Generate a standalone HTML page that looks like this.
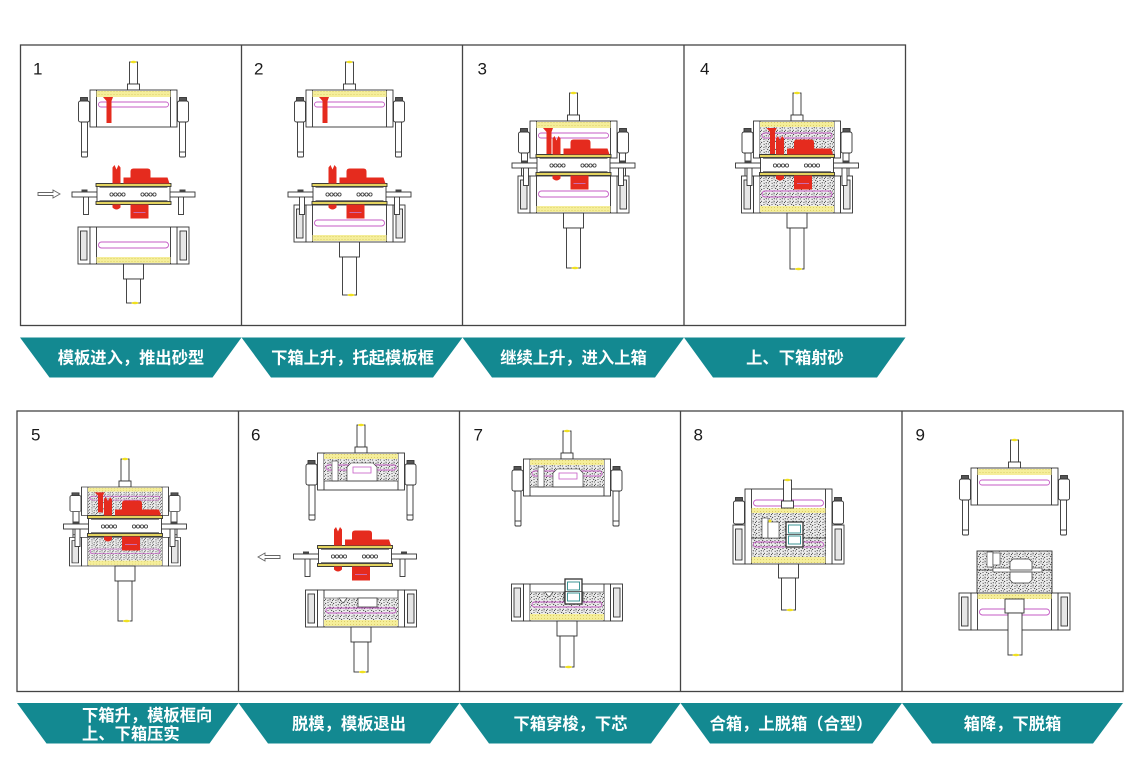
<!DOCTYPE html>
<html><head><meta charset="utf-8">
<style>
html,body{margin:0;padding:0;background:#fff;}
svg{display:block;}
.n{font-family:"Liberation Sans",Arial,sans-serif;font-size:17px;fill:#1a1a1a;}
.b{font-family:"Liberation Sans","Noto Sans CJK SC","WenQuanYi Zen Hei",sans-serif;font-size:16.3px;font-weight:bold;fill:#fff;}
</style></head><body>
<svg width="1140" height="766" viewBox="0 0 1140 766" xmlns="http://www.w3.org/2000/svg">
<defs>
<pattern id="sand" width="8" height="8" patternUnits="userSpaceOnUse">
<rect width="8" height="8" fill="#ececec"/>
<path d="M0.5,1 l1.2,0.4 M4,0.8 l0.8,1 M6.5,2.5 l1,-0.6 M2,4 l1.2,0.8 M5,5 l-0.8,1 M0.8,6.5 l1,0.5 M6.8,6.8 l0.6,1" stroke="#222" stroke-width="0.75"/>
<circle cx="3.5" cy="2.6" r="0.55" fill="#333"/>
<circle cx="7" cy="4.5" r="0.55" fill="#333"/>
<circle cx="3.4" cy="7" r="0.55" fill="#333"/>
<circle cx="1" cy="3" r="0.45" fill="#444"/>
</pattern>
<pattern id="ydot" width="3" height="3" patternUnits="userSpaceOnUse">
<rect width="3" height="3" fill="#f5ee9a"/><circle cx="1.5" cy="1.5" r="0.5" fill="#d4c35a"/>
</pattern>

<g id="toprod" stroke="#333" stroke-width="0.9" fill="#fff">
<rect x="-4" y="-28" width="8" height="22"/>
<rect x="-6" y="-6" width="12" height="6"/>
<ellipse cx="0" cy="-28" rx="3" ry="1.3" fill="#f0e020" stroke="none"/>
</g>

<g id="copeFrame" stroke="#333" stroke-width="0.9" fill="#fff">
<rect x="-52" y="31" width="6" height="36" rx="1"/>
<rect x="46" y="31" width="6" height="36" rx="1"/>
<line x1="-52" y1="62" x2="-46" y2="62"/>
<line x1="46" y1="62" x2="52" y2="62"/>
<rect x="-55" y="11" width="11" height="21" rx="2"/>
<rect x="44" y="11" width="11" height="21" rx="2"/>
<rect x="-53" y="7.5" width="7" height="3.5" fill="#555"/>
<rect x="46" y="7.5" width="7" height="3.5" fill="#555"/>
<rect x="-43.5" y="0" width="87" height="37"/>
<line x1="-37" y1="0" x2="-37" y2="37"/>
<line x1="37" y1="0" x2="37" y2="37"/>
</g>

<g id="copeEmptyIn">
<rect x="-37" y="1" width="74" height="6" fill="url(#ydot)"/>
<rect x="-35" y="12" width="70" height="5" rx="2.5" fill="none" stroke="#c55bc5" stroke-width="0.9"/>
</g>
<g id="copeSandIn">
<rect x="-37" y="6" width="74" height="30.5" fill="url(#sand)"/>
<rect x="-37" y="1" width="74" height="5" fill="url(#ydot)"/>
<rect x="-35" y="12" width="70" height="5" rx="2.5" fill="none" stroke="#c55bc5" stroke-width="0.9"/>
</g>
<g id="copeStrip">
<rect x="-37" y="1" width="74" height="5" fill="url(#ydot)"/>
<rect x="-37" y="6" width="74" height="22" fill="url(#sand)"/>
<rect x="-35" y="12" width="70" height="5" rx="2.5" fill="none" stroke="#c55bc5" stroke-width="0.9"/>
<rect x="-29" y="8" width="6" height="20" fill="#fff" stroke="#333" stroke-width="0.6"/>
<path d="M-14,28 V14 L-10,10 H12 L16,14 V28 Z" fill="#fff" stroke="#333" stroke-width="0.6"/>
<rect x="-8" y="14" width="18" height="6" fill="none" stroke="#c55bc5" stroke-width="0.8"/>
<line x1="-37" y1="28" x2="37" y2="28" stroke="#333" stroke-width="0.7"/>
</g>
<g id="copeSprue" fill="#e52b1e">
<path d="M-30.5,7 L-20.5,7 L-22,11 L-22,33 L-27,33 L-27,11 Z"/>
</g>

<g id="plate" stroke="#333" stroke-width="0.9">
<rect x="-50" y="2" width="5" height="18" fill="#fff"/>
<rect x="45" y="2" width="5" height="18" fill="#fff"/>
<rect x="-61.5" y="-2.5" width="123" height="5" fill="#fff"/>
<rect x="-36.5" y="-11" width="73" height="21" fill="#fff"/>
<rect x="-37.5" y="-11" width="75" height="3" fill="#e3d35f"/>
<rect x="-37.5" y="7" width="75" height="3" fill="#e3d35f"/>
<line x1="-34" y1="-7" x2="34" y2="-7" stroke="#888"/>
<line x1="-34" y1="6" x2="34" y2="6" stroke="#888"/>
<g fill="#fff" stroke-width="0.8">
<circle cx="-22" cy="0" r="1.6"/><circle cx="-18" cy="0" r="1.6"/><circle cx="-14" cy="0" r="1.6"/><circle cx="-10" cy="0" r="1.6"/>
<circle cx="9" cy="0" r="1.6"/><circle cx="13" cy="0" r="1.6"/><circle cx="17" cy="0" r="1.6"/><circle cx="21" cy="0" r="1.6"/>
</g>
<rect x="-52" y="-5" width="6" height="2.5" fill="#444" stroke="none"/>
<rect x="46" y="-5" width="6" height="2.5" fill="#444" stroke="none"/>
</g>

<g id="patRed" fill="#e52b1e">
<path d="M-21,-11 V-27 L-19,-29.5 L-17,-25 L-15,-29.5 L-13,-27 V-11 Z"/>
<path d="M-10,-11 V-17 L-3,-17 L-3,-23 Q-3,-26 0,-26 L14,-26 Q17,-26 17,-23 L17,-17 L34,-17 L36,-11 Z"/>
<rect x="-3" y="10" width="18" height="14"/>
<path d="M-21,10 h8 v3 q-4,4 -8,0 z"/>
<line x1="0" y1="18" x2="12" y2="18" stroke="#c77bd0" stroke-width="0.8"/>
</g>

<g id="dragFrame" stroke="#333" stroke-width="0.9" fill="#fff">
<rect x="-55.5" y="0" width="12" height="37"/>
<rect x="-53" y="4" width="6.5" height="29" fill="#e6e6e6"/>
<rect x="43.5" y="0" width="12" height="37"/>
<rect x="46.5" y="4" width="6.5" height="29" fill="#e6e6e6"/>
<rect x="-43.5" y="0" width="87" height="37"/>
<line x1="-37" y1="0" x2="-37" y2="37"/>
<line x1="37" y1="0" x2="37" y2="37"/>
</g>
<g id="dragEmptyIn">
<rect x="-35" y="15" width="70" height="6" rx="3" fill="none" stroke="#c55bc5" stroke-width="0.9"/>
<rect x="-37" y="30" width="74" height="6" fill="url(#ydot)"/>
</g>
<g id="dragSandIn">
<rect x="-37" y="0.5" width="74" height="29.5" fill="url(#sand)"/>
<rect x="-35" y="15" width="70" height="6" rx="3" fill="none" stroke="#c55bc5" stroke-width="0.9"/>
<rect x="-37" y="30" width="74" height="6" fill="url(#ydot)"/>
</g>
<g id="dragStrip">
<rect x="-37" y="8" width="74" height="22" fill="url(#sand)"/>
<line x1="-37" y1="8" x2="37" y2="8" stroke="#333" stroke-width="0.6"/>
<path d="M-3,8 V17 H16 V8 Z" fill="#fff" stroke="#333" stroke-width="0.7"/>
<path d="M-22,8 L-18,13 L-14,8 Z" fill="#fff" stroke="#333" stroke-width="0.6"/>
<rect x="-35" y="18" width="70" height="5" rx="2.5" fill="none" stroke="#c55bc5" stroke-width="0.9"/>
<rect x="-37" y="30" width="74" height="6" fill="url(#ydot)"/>
</g>
<g id="collar"><rect x="-10" y="0" width="20" height="15" fill="#fff" stroke="#333" stroke-width="0.9"/></g>
<g id="core">
<rect x="0" y="0" width="17" height="25" fill="#fff" stroke="#333" stroke-width="1.3"/>
<rect x="2.5" y="3" width="12" height="8" fill="none" stroke="#2a8a8a" stroke-width="0.9"/>
<rect x="2.5" y="14" width="12" height="8" fill="none" stroke="#2a8a8a" stroke-width="0.9"/>
<line x1="0" y1="12.5" x2="17" y2="12.5" stroke="#333" stroke-width="0.8"/>
</g>
</defs>

<!-- panel frames -->
<g fill="none" stroke="#444" stroke-width="1.3">
<rect x="20.5" y="45" width="885" height="280.5"/>
<line x1="241.5" y1="45" x2="241.5" y2="325.5"/>
<line x1="462.5" y1="45" x2="462.5" y2="325.5"/>
<line x1="684" y1="45" x2="684" y2="325.5"/>
<rect x="17" y="411" width="1106" height="280.5"/>
<line x1="238.5" y1="411" x2="238.5" y2="691.5"/>
<line x1="459.5" y1="411" x2="459.5" y2="691.5"/>
<line x1="680.5" y1="411" x2="680.5" y2="691.5"/>
<line x1="902" y1="411" x2="902" y2="691.5"/>
</g>

<!-- numbers -->
<text class="n" x="33" y="74.5">1</text>
<text class="n" x="254" y="74.5">2</text>
<text class="n" x="477.5" y="74.5">3</text>
<text class="n" x="700" y="74.5">4</text>
<text class="n" x="31" y="440.7">5</text>
<text class="n" x="251" y="440.7">6</text>
<text class="n" x="473.5" y="440.7">7</text>
<text class="n" x="693.5" y="440.7">8</text>
<text class="n" x="915.5" y="440.7">9</text>

<!-- banners -->
<g fill="#138991">
<polygon points="20,337.5 241.5,337.5 212.5,377.5 49.5,377.5"/>
<polygon points="241.5,337.5 462.5,337.5 433,377.5 271,377.5"/>
<polygon points="462.5,337.5 684,337.5 655,377.5 492,377.5"/>
<polygon points="684,337.5 905.5,337.5 877,377.5 713,377.5"/>
<polygon points="17,703 238.5,703 209.5,743.5 46.5,743.5"/>
<polygon points="238.5,703 459.5,703 430,743.5 268,743.5"/>
<polygon points="459.5,703 680.5,703 651,743.5 489,743.5"/>
<polygon points="680.5,703 902,703 872.5,743.5 710,743.5"/>
<polygon points="902,703 1123,703 1093,743.5 932,743.5"/>
</g>
<text class="b" x="131" y="363.5" text-anchor="middle">模板进入，推出砂型</text>
<text class="b" x="352.5" y="363.5" text-anchor="middle">下箱上升，托起模板框</text>
<text class="b" x="573.5" y="363.5" text-anchor="middle">继续上升，进入上箱</text>
<text class="b" x="795" y="363.5" text-anchor="middle">上、下箱射砂</text>
<text class="b" x="82" y="721">下箱升，模板框向</text>
<text class="b" x="82" y="739.5">上、下箱压实</text>
<text class="b" x="349" y="729.5" text-anchor="middle">脱模，模板退出</text>
<text class="b" x="570.5" y="729.5" text-anchor="middle">下箱穿梭，下芯</text>
<text class="b" x="791" y="729.5" text-anchor="middle">合箱，上脱箱（合型）</text>
<text class="b" x="1012.5" y="729.5" text-anchor="middle">箱降，下脱箱</text>

<!-- Panel 1 -->
<use href="#toprod" x="133.5" y="90"/>
<use href="#copeFrame" x="133.5" y="90"/>
<use href="#copeEmptyIn" x="133.5" y="90"/>
<use href="#copeSprue" x="133.5" y="90"/>
<use href="#plate" x="133.5" y="194.5"/>
<use href="#patRed" x="133.5" y="194.5"/>
<path d="M38,192.5 H53 V190 L60,194 L53,198 V195.5 H38 Z" fill="#fff" stroke="#666" stroke-width="0.9"/>
<use href="#dragFrame" x="133.5" y="227"/>
<use href="#dragEmptyIn" x="133.5" y="227"/>
<use href="#collar" x="133.5" y="264"/>
<rect x="126.5" y="279" width="14" height="24" fill="#fff" stroke="#333" stroke-width="0.9"/>
<ellipse cx="135" cy="303" rx="3.5" ry="1.3" fill="#f0e020"/>

<!-- Panel 2 -->
<use href="#toprod" x="349.5" y="90"/>
<use href="#copeFrame" x="349.5" y="90"/>
<use href="#copeEmptyIn" x="349.5" y="90"/>
<use href="#copeSprue" x="349.5" y="90"/>
<use href="#dragFrame" x="349.5" y="205"/>
<use href="#dragEmptyIn" x="349.5" y="205"/>
<use href="#plate" x="349.5" y="194.5"/>
<use href="#patRed" x="349.5" y="194.5"/>
<use href="#collar" x="349.5" y="242"/>
<rect x="342.5" y="257" width="14" height="38" fill="#fff" stroke="#333" stroke-width="0.9"/>
<ellipse cx="351" cy="295" rx="3.5" ry="1.3" fill="#f0e020"/>

<!-- Panel 3 -->
<use href="#toprod" x="573.5" y="121"/>
<use href="#copeFrame" x="573.5" y="121"/>
<use href="#copeEmptyIn" x="573.5" y="121"/>
<use href="#dragFrame" x="573.5" y="176"/>
<use href="#dragEmptyIn" x="573.5" y="176"/>
<use href="#plate" x="573.5" y="165.5"/>
<use href="#copeSprue" x="573.5" y="121"/>
<use href="#patRed" x="573.5" y="165.5"/>
<use href="#collar" x="573.5" y="213"/>
<rect x="566.5" y="228" width="14" height="40" fill="#fff" stroke="#333" stroke-width="0.9"/>
<ellipse cx="575" cy="268" rx="3.5" ry="1.3" fill="#f0e020"/>

<!-- Panel 4 -->
<use href="#toprod" x="797" y="121"/>
<use href="#copeFrame" x="797" y="121"/>
<use href="#copeSandIn" x="797" y="121"/>
<use href="#dragFrame" x="797" y="176"/>
<use href="#dragSandIn" x="797" y="176"/>
<use href="#plate" x="797" y="165.5"/>
<use href="#copeSprue" x="797" y="121"/>
<use href="#patRed" x="797" y="165.5"/>
<use href="#collar" x="797" y="213"/>
<rect x="790" y="228" width="14" height="41" fill="#fff" stroke="#333" stroke-width="0.9"/>
<ellipse cx="798.5" cy="269" rx="3.5" ry="1.3" fill="#f0e020"/>

<!-- Panel 5 -->
<use href="#toprod" x="125" y="487"/>
<g transform="translate(125,487) scale(1,0.77)">
<use href="#copeFrame"/><use href="#copeSandIn"/><use href="#copeSprue"/>
</g>
<g transform="translate(125,537.5) scale(1,0.77)">
<use href="#dragFrame"/><use href="#dragSandIn"/>
</g>
<use href="#plate" x="125" y="526.5"/>
<use href="#patRed" x="125" y="526.5"/>
<use href="#collar" x="125" y="566"/>
<rect x="118" y="581" width="14" height="40" fill="#fff" stroke="#333" stroke-width="0.9"/>
<ellipse cx="126.5" cy="621" rx="3.5" ry="1.3" fill="#f0e020"/>

<!-- Panel 6 -->
<use href="#toprod" x="361" y="453"/>
<use href="#copeFrame" x="361" y="453"/>
<use href="#copeStrip" x="361" y="453"/>
<use href="#plate" x="355" y="556.5"/>
<use href="#patRed" x="355" y="556.5"/>
<path d="M280,555.5 H265 V553 L258,557 L265,561 V558.5 H280 Z" fill="#fff" stroke="#666" stroke-width="0.9"/>
<use href="#dragFrame" x="361" y="590"/>
<use href="#dragStrip" x="361" y="590"/>
<use href="#collar" x="361" y="627"/>
<rect x="354" y="642" width="14" height="30" fill="#fff" stroke="#333" stroke-width="0.9"/>
<ellipse cx="362.5" cy="672" rx="3.5" ry="1.3" fill="#f0e020"/>

<!-- Panel 7 -->
<use href="#toprod" x="567" y="459"/>
<use href="#copeFrame" x="567" y="459"/>
<use href="#copeStrip" x="567" y="459"/>
<use href="#dragFrame" x="567" y="584"/>
<use href="#dragStrip" x="567" y="584"/>
<use href="#core" x="565" y="579"/>
<use href="#collar" x="567" y="621"/>
<rect x="560" y="636" width="14" height="31" fill="#fff" stroke="#333" stroke-width="0.9"/>
<ellipse cx="568.5" cy="667" rx="3.5" ry="1.3" fill="#f0e020"/>

<!-- Panel 8 -->
<g stroke="#333" stroke-width="0.9" fill="#fff">
<rect x="733" y="525" width="12" height="39"/>
<rect x="735.5" y="529" width="6.5" height="31" fill="#e6e6e6"/>
<rect x="832" y="525" width="12" height="39"/>
<rect x="835" y="529" width="6.5" height="31" fill="#e6e6e6"/>
<rect x="733.5" y="501" width="11" height="23" rx="2"/>
<rect x="832.5" y="501" width="11" height="23" rx="2"/>
<rect x="735.5" y="497.5" width="7" height="3.5" fill="#555"/>
<rect x="834.5" y="497.5" width="7" height="3.5" fill="#555"/>
<rect x="745" y="489" width="87" height="75"/>
<line x1="751.5" y1="489" x2="751.5" y2="564"/>
<line x1="825.5" y1="489" x2="825.5" y2="564"/>
</g>
<rect x="753.5" y="500" width="70" height="6" rx="3" fill="none" stroke="#c55bc5" stroke-width="0.9"/>
<rect x="751.5" y="508" width="74" height="5" fill="url(#ydot)"/>
<rect x="751.5" y="513" width="74" height="44" fill="url(#sand)"/>
<line x1="751.5" y1="538" x2="825.5" y2="538" stroke="#333" stroke-width="0.8"/>
<rect x="753.5" y="542" width="70" height="5" rx="2.5" fill="none" stroke="#c55bc5" stroke-width="0.9"/>
<rect x="762" y="518" width="6" height="20" fill="#fff" stroke="#333" stroke-width="0.6"/>
<rect x="768" y="522" width="11" height="16" fill="#fff" stroke="#333" stroke-width="0.6"/>
<circle cx="770" cy="521" r="1.5" fill="#f0e020"/>
<use href="#core" x="786" y="522"/>
<rect x="751.5" y="557" width="74" height="6" fill="url(#ydot)"/>
<g stroke="#333" stroke-width="0.9" fill="#fff">
<rect x="783.5" y="480" width="8" height="21"/>
<rect x="781.5" y="501" width="12" height="7"/>
<rect x="778.5" y="564" width="20" height="14"/>
<rect x="781.5" y="578" width="14" height="32"/>
</g>
<ellipse cx="787.5" cy="480" rx="3" ry="1.3" fill="#f0e020"/>
<ellipse cx="790" cy="610" rx="3.5" ry="1.3" fill="#f0e020"/>

<!-- Panel 9 -->
<use href="#toprod" x="1014.5" y="468"/>
<use href="#copeFrame" x="1014.5" y="468"/>
<use href="#copeEmptyIn" x="1014.5" y="468"/>
<rect x="977" y="551" width="75" height="43" fill="url(#sand)" stroke="#333" stroke-width="0.9"/>
<line x1="977" y1="570" x2="1052" y2="570" stroke="#333" stroke-width="0.8"/>
<rect x="987" y="552" width="6" height="15" fill="#fff" stroke="#333" stroke-width="0.6"/>
<rect x="993" y="553" width="7" height="12" fill="#fff" stroke="#333" stroke-width="0.6"/>
<rect x="993" y="568" width="49" height="4" fill="#fff" stroke="#333" stroke-width="0.6"/>
<path d="M1010,570 V562 L1013,559 H1029 L1032,562 V570 Z" fill="#fff" stroke="#333" stroke-width="0.7"/>
<path d="M1010,572 V580 L1013,583 H1029 L1032,580 V572 Z" fill="#fff" stroke="#333" stroke-width="0.7"/>
<use href="#dragFrame" x="1014.5" y="593"/>
<rect x="977.5" y="594" width="74" height="5" fill="url(#ydot)"/>
<rect x="979.5" y="609" width="70" height="6" rx="3" fill="none" stroke="#c55bc5" stroke-width="0.9"/>
<g stroke="#333" stroke-width="0.9" fill="#fff">
<rect x="1005" y="599" width="19" height="14"/>
<rect x="1008" y="613" width="14" height="42"/>
</g>
<ellipse cx="1016" cy="655" rx="3.5" ry="1.3" fill="#f0e020"/>
</svg>
</body></html>
